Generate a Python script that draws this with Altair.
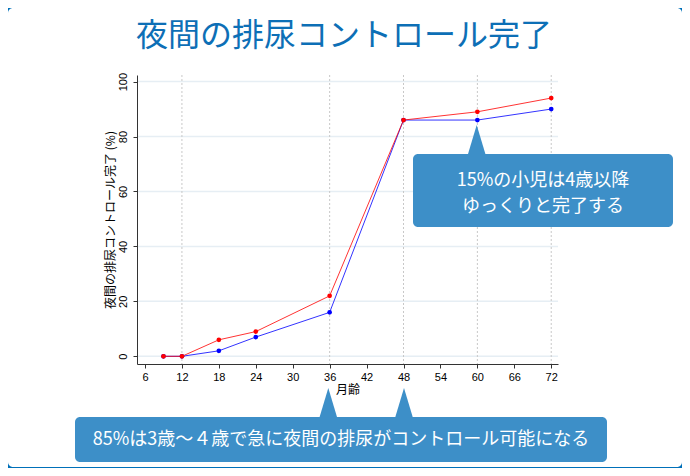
import altair as alt
import pandas as pd

# ---- data ----
months = [9, 12, 18, 24, 36, 48, 60, 72]
series_red = [0, 0, 6, 9, 22, 86, 89, 94]
series_blue = [0, 0, 2, 7, 16, 86, 86, 90]
x_ticks = [6, 12, 18, 24, 30, 36, 42, 48, 54, 60, 66, 72]
y_ticks = [0, 20, 40, 60, 80, 100]
ref_months = [12, 36, 48, 60, 72]

title_text = "夜間の排尿コントロール完了"
x_title = "月齢"
y_title = "夜間の排尿コントロール完了 (%)"
note1_a = "15%の小児は4歳以降"
note1_b = "ゆっくりと完了する"
note2 = "85%は3歳～４歳で急に夜間の排尿がコントロール可能になる"

# ---- layout (page pixels) ----
X0, Y0 = 137, 75          # plot origin on page
W, H = 421, 289
TOTAL_W, TOTAL_H = 674, 460
PAD_L, PAD_T = X0 - 8, Y0 - 8
PAD_R = TOTAL_W - PAD_L - W
PAD_B = TOTAL_H - PAD_T - H


def px(p):
    return p - X0


def py(p):
    return p - Y0


FRAME = "#0070b9"
BOX = "#3d8fc8"
TITLE_C = "#0d6fb6"
JP = "Noto Sans CJK JP"

red_df = pd.DataFrame({"m": months, "v": series_red})
blue_df = pd.DataFrame({"m": months, "v": series_blue})
one = pd.DataFrame({"a": [0]})

xscale = alt.Scale(domain=[4.7, 73.1], nice=False, zero=False)
yscale = alt.Scale(domain=[-2.8, 102.4], nice=False, zero=False)

x_axis = alt.Axis(values=x_ticks, title=x_title, grid=False, labelFont="Liberation Sans",
                  labelFontSize=11, labelColor="black", titleFont=JP, titleFontSize=12,
                  titleFontWeight="normal", titleColor="black", domainColor="#333333",
                  tickColor="#333333", tickSize=4, labelPadding=3, titlePadding=2,
                  zindex=1)
y_axis = alt.Axis(values=y_ticks, title=y_title, grid=False, labelFont="Liberation Sans",
                  labelFontSize=11, labelColor="black", labelAngle=-90, labelAlign="center",
                  labelBaseline="bottom", labelPadding=5, titleFont=JP, titleFontSize=12,
                  titleFontWeight="normal", titleColor="black", domainColor="#333333",
                  tickColor="#333333", tickSize=4, titlePadding=0, zindex=1)

X = alt.X("m:Q", scale=xscale, axis=x_axis)
Y = alt.Y("v:Q", scale=yscale, axis=y_axis)

panel = alt.Chart(one).mark_rect(fill="white", cornerRadius=5).encode(
    x=alt.value(px(8)), x2=alt.value(px(682)), y=alt.value(py(8)), y2=alt.value(py(467))
)

title = alt.Chart(one).mark_text(font=JP, fontSize=32, color=TITLE_C, align="center",
                                 baseline="middle").encode(
    x=alt.value(px(344)), y=alt.value(py(36)), text=alt.value(title_text)
)

hgrid = alt.Chart(pd.DataFrame({"v": y_ticks})).mark_rule(color="#e6eef4", strokeWidth=1.5).encode(
    y=Y, x=alt.value(0), x2=alt.value(W)
)

vgrid = alt.Chart(pd.DataFrame({"m": ref_months})).mark_rule(
    color="#c8c8c8", strokeDash=[2, 2], strokeWidth=1).encode(
    x=X, y=alt.value(0), y2=alt.value(H)
)

blue_line = alt.Chart(blue_df).mark_line(color="#0000ff", strokeWidth=1, opacity=0.8).encode(x=X, y=Y)
blue_pts = alt.Chart(blue_df).mark_circle(color="#0000ff", size=22, opacity=1).encode(x=X, y=Y)
red_line = alt.Chart(red_df).mark_line(color="#ff0000", strokeWidth=1, opacity=0.8).encode(x=X, y=Y)
red_pts = alt.Chart(red_df).mark_circle(color="#ff0000", size=22, opacity=1).encode(x=X, y=Y)

tri_shape = "M -0.6 1 L 0 -1 L 0.6 1 Z"
tri_df = pd.DataFrame({"tx": [px(476.7), px(328.3), px(404)], "ty": [py(140), py(403), py(403)]})
tris = alt.Chart(tri_df).mark_point(shape=tri_shape, filled=True, fill=BOX, strokeWidth=0,
                                    size=900, opacity=1).encode(
    x=alt.X("tx:Q", scale=None, axis=None), y=alt.Y("ty:Q", scale=None, axis=None)
)

box1 = alt.Chart(one).mark_rect(fill=BOX, cornerRadius=5).encode(
    x=alt.value(px(413)), x2=alt.value(px(673)), y=alt.value(py(154)), y2=alt.value(py(227))
)
box2 = alt.Chart(one).mark_rect(fill=BOX, cornerRadius=5).encode(
    x=alt.value(px(75)), x2=alt.value(px(607)), y=alt.value(py(417)), y2=alt.value(py(462))
)
txt_style = dict(font=JP, fontSize=18, color="white", align="center", baseline="middle")
txt1a = alt.Chart(one).mark_text(**txt_style).encode(
    x=alt.value(px(543)), y=alt.value(py(181)), text=alt.value(note1_a)
)
txt1b = alt.Chart(one).mark_text(**txt_style).encode(
    x=alt.value(px(543)), y=alt.value(py(207)), text=alt.value(note1_b)
)
txt2 = alt.Chart(one).mark_text(**txt_style).encode(
    x=alt.value(px(341)), y=alt.value(py(440)), text=alt.value(note2)
)

chart = alt.layer(
    panel, title, hgrid, vgrid, blue_line, blue_pts, red_line, red_pts,
    tris, box1, box2, txt1a, txt1b, txt2
).properties(
    width=W, height=H,
    autosize=alt.AutoSizeParams(type="none"),
    padding={"left": PAD_L, "top": PAD_T, "right": PAD_R, "bottom": PAD_B},
    background=FRAME,
).configure_view(stroke=None)

chart.save("out.html", embed_options={"renderer": "svg", "actions": False})
